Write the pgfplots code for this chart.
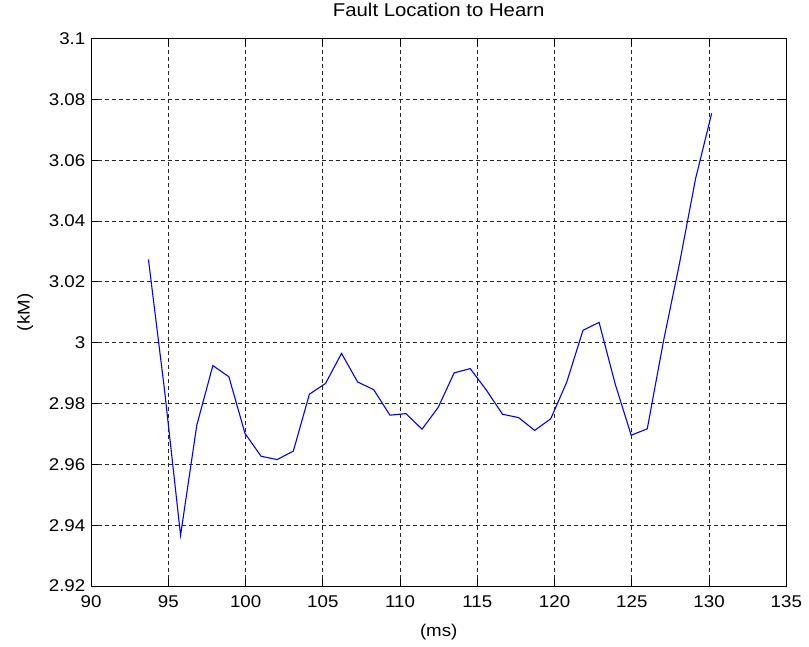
\documentclass[border=0pt]{standalone}
\usepackage{fontspec}
\setmainfont{Liberation Sans}[FakeStretch=1.1]
\usepackage{pgfplots}
\pgfplotsset{compat=1.18}
\begin{document}
\begin{tikzpicture}
\begin{axis}[
  scale only axis,
  width=695pt, height=547.5pt,
  xmin=90, xmax=135, ymin=2.92, ymax=3.1,
  xtick={90,95,...,135},
  ytick={2.92,2.94,2.96,2.98,3,3.02,3.04,3.06,3.08,3.1},
  yticklabels={2.92,2.94,2.96,2.98,3,3.02,3.04,3.06,3.08,3.1},
  /pgf/number format/assume math mode=true,
  tick align=inside,
  major tick length=7pt,
  tick style={black, line width=0.9pt},
  axis line style={black, line width=1pt},
  grid=major,
  major grid style={black!85, dash pattern=on 4pt off 3pt, line width=0.8pt},
  font=\fontsize{17}{20}\selectfont,
  tick label style={font=\fontsize{17}{20}\selectfont},
  xticklabel style={yshift=-6pt},
  yticklabel style={xshift=-2.3pt},
  title={Fault Location to Hearn},
  title style={at={([yshift=22.5pt]axis description cs:0.5,1)}, anchor=center, font=\fontsize{18.5}{22}\selectfont},
  xlabel={(ms)},
  xlabel style={at={([yshift=-46pt]axis description cs:0.5,0)}, anchor=center},
  ylabel={(kM)},
  ylabel style={at={([xshift=-66pt]axis description cs:0,0.5)}, anchor=center},
]
\addplot[color={rgb,255:red,0;green,0;blue,255}, line width=1.1pt] coordinates {
(93.71,3.0274) (94.75,2.9845) (95.79,2.9367) (96.84,2.9729) (97.88,2.9925)
(98.92,2.9888) (99.96,2.9702) (101.00,2.9627) (102.04,2.9616) (103.09,2.9644)
(104.13,2.9831) (105.17,2.9866) (106.21,2.9965) (107.25,2.9871) (108.29,2.9846)
(109.34,2.9762) (110.38,2.9767) (111.42,2.9716) (112.46,2.9787) (113.50,2.9901)
(114.54,2.9915) (115.59,2.9844) (116.63,2.9765) (117.67,2.9754) (118.71,2.9712)
(119.75,2.9750) (120.79,2.9871) (121.84,3.0041) (122.88,3.0067) (123.92,2.9865)
(124.96,2.9696) (126.00,2.9717) (127.04,3.0003) (128.09,3.0262) (129.13,3.0540)
(130.17,3.0754)
};
\end{axis}
\pgfresetboundingbox
\path ([xshift=-91.1pt,yshift=-60pt]current axis.south west) rectangle ([xshift=22.7pt,yshift=38.5pt]current axis.north east);
\end{tikzpicture}
\end{document}
